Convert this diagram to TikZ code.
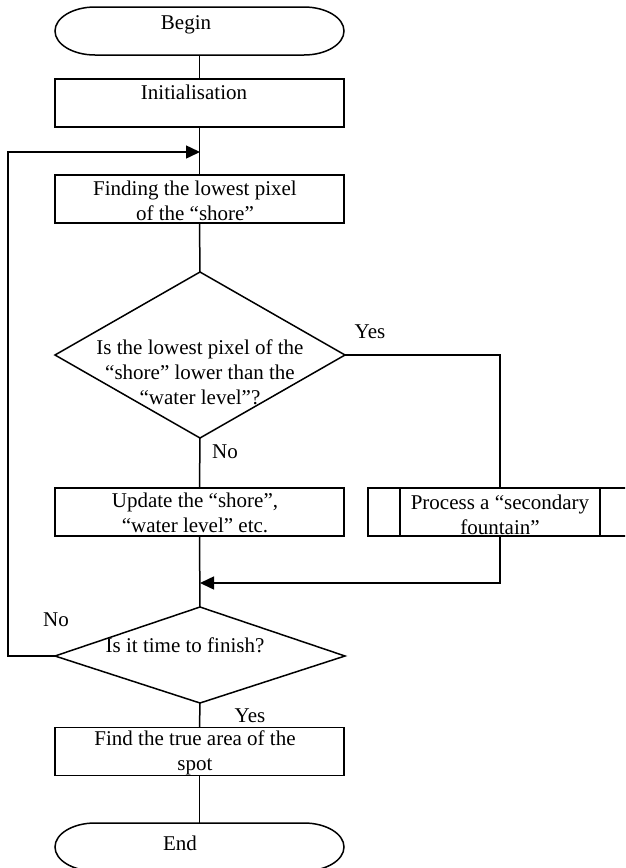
\documentclass[tikz,border=0pt]{standalone}
\usepackage{fontspec}
\setmainfont{Liberation Serif}
\usetikzlibrary{arrows.meta}
\begin{document}
\begin{tikzpicture}[x=1pt,y=1pt,line width=1.5pt,
  box/.style={draw, rectangle, minimum width=289pt, minimum height=48pt, inner sep=0pt, outer sep=0pt},
  term/.style={rectangle, minimum width=289pt, minimum height=48pt, inner sep=0pt, outer sep=0pt},
  txt/.style={font=\fontsize{21}{25}\selectfont, inner sep=0pt, align=center},
  arrow/.style={-{Triangle[length=14pt,width=13pt]}}
]
\useasboundingbox (0,0) rectangle (625,-868);
\clip (0,0) rectangle (625,-868);

% terminals and boxes
\node[term] (begin) at (199.5,-31) {};
\node[box] (init) at (199.5,-103) {};
\node[box] (find) at (199.5,-199) {};
\node[box] (upd) at (199.5,-512) {};
\node[box, minimum width=264pt] (proc) at (500,-512) {};
\node[box] (fin) at (199.5,-751.5) {};
\node[term] (end) at (199.5,-847) {};

\draw ([xshift=40pt]begin.north west) -- ([xshift=-40pt]begin.north east)
  arc[start angle=90,end angle=-90,x radius=40pt,y radius=24pt]
  -- ([xshift=40pt]begin.south west)
  arc[start angle=270,end angle=90,x radius=40pt,y radius=24pt] -- cycle;
\draw ([xshift=40pt]end.north west) -- ([xshift=-40pt]end.north east)
  arc[start angle=90,end angle=-90,x radius=40pt,y radius=24pt]
  -- ([xshift=40pt]end.south west)
  arc[start angle=270,end angle=90,x radius=40pt,y radius=24pt] -- cycle;

\draw ([xshift=32pt]proc.north west) -- ([xshift=32pt]proc.south west);
\draw ([xshift=-32pt]proc.north east) -- ([xshift=-32pt]proc.south east);

% diamonds
\coordinate (d1t) at (200,-272);
\coordinate (d1l) at (55,-355);
\coordinate (d1r) at (345,-355);
\coordinate (d1b) at (200,-438);
\draw (d1t) -- (d1r) -- (d1b) -- (d1l) -- cycle;
\coordinate (d2t) at (200,-607);
\coordinate (d2l) at (55,-656);
\coordinate (d2r) at (345,-656);
\coordinate (d2b) at (200,-703);
\draw (d2t) -- (d2r) -- (d2b) -- (d2l) -- cycle;

% helper coordinates
\coordinate (fbTop) at (8,-152);
\coordinate (fbIn) at (200,-152);
\coordinate (mergeIn) at (200,-583);

% connectors
\draw (begin.south) -- (init.north);
\draw (init.south) -- (find.north);
\draw (find.south) -- (d1t);
\draw (d1b) -- (upd.north);
\draw (d1r) -| (proc.north);
\draw[arrow] (proc.south) |- (mergeIn);
\draw (upd.south) -- (d2t);
\draw[arrow] (d2l) -| (fbTop) -- (fbIn);
\draw (d2b) -- (fin.north);
\draw (fin.south) -- (end.north);

% texts
\node[txt] (tbegin) at (186,-25) {Begin};
\node[txt] (tinit) at (194,-92) {Initialisation};
\node[txt] (tfind) at (195,-200.5) {Finding the lowest pixel\\of the “shore”};
\node[txt] (td1) at (200,-372.5) {Is the lowest pixel of the\\“shore” lower than the\\“water level”?};
\node[txt] (yes1) at (370,-332) {Yes};
\node[txt] (no1) at (225,-452) {No};
\node[txt] (tupd) at (195,-512.5) {Update the “shore”,\\“water level” etc.};
\node[txt] (tproc) at (500,-515) {Process a “secondary\\fountain”};
\node[txt] (no2) at (56,-620) {No};
\node[txt] (td2) at (185,-645) {Is it time to finish?};
\node[txt] (yes2) at (250,-716) {Yes};
\node[txt] (tfin) at (195,-752.5) {Find the true area of the\\spot};
\node[txt] (tend) at (180,-843) {End};
\end{tikzpicture}
\end{document}
